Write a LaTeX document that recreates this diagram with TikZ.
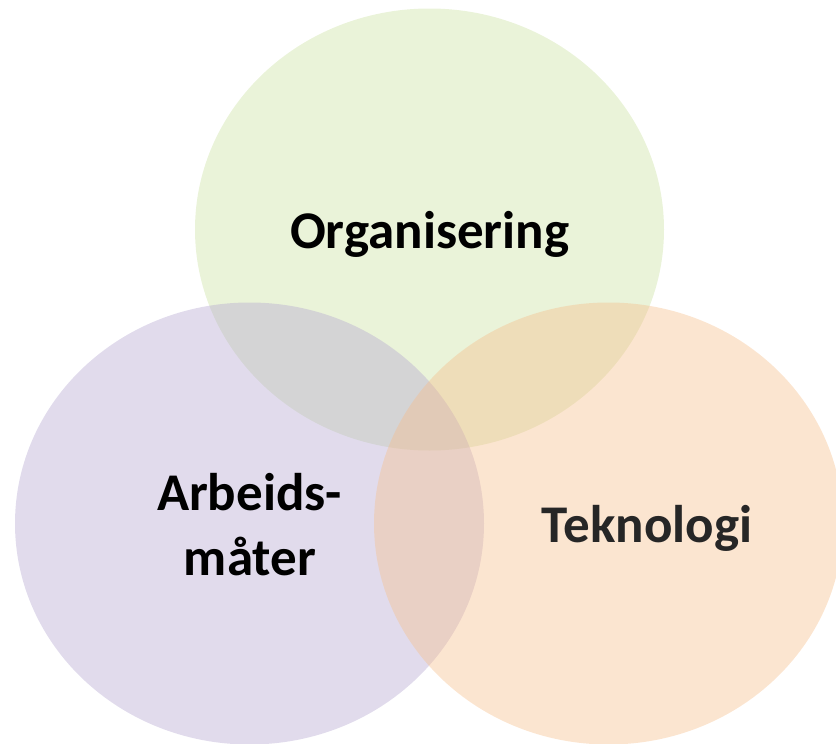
\documentclass[tikz,border=0pt]{standalone}
\usepackage{fontspec}
\setmainfont{Carlito}
\usetikzlibrary{shapes.geometric}
\definecolor{cgreen}{RGB}{202,224,160}
\definecolor{cpurple}{RGB}{180,166,208}
\definecolor{cpeach}{RGB}{246,190,138}
\definecolor{tdark}{RGB}{38,38,38}
\tikzset{
  venn/.style={ellipse, draw=none, inner sep=0pt, minimum width=469pt, minimum height=442pt, fill opacity=0.4},
  lbl/.style={anchor=base, inner sep=0pt, font=\fontsize{53}{65}\selectfont\bfseries}
}
\begin{document}
\begin{tikzpicture}[x=1pt,y=-1pt]
\useasboundingbox (0,0) rectangle (836,744);
\node[venn, fill=cgreen] (org) at (429.5,229.5) {};
\node[venn, fill=cpurple] (arb) at (249.5,523.5) {};
\node[venn, fill=cpeach] (tek) at (608.5,523.5) {};
\node[lbl] (torg) at (429.7,248) {Organisering};
\node[lbl] (tarb1) at (249.5,510) {Arbeids-};
\node[lbl] (tarb2) at (250,575) {måter};
\node[lbl, text=tdark] (ttek) at (647,542) {Teknologi};
\end{tikzpicture}
\end{document}
